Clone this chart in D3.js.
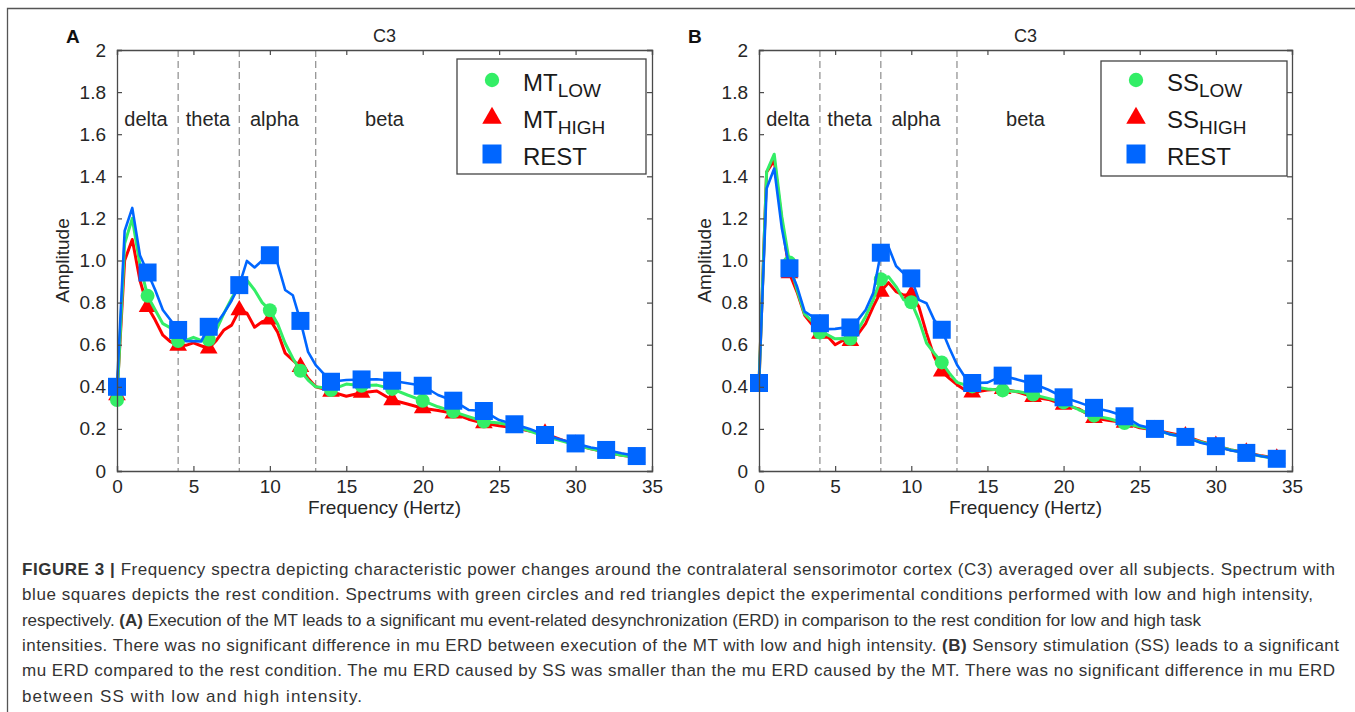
<!DOCTYPE html>
<html><head><meta charset="utf-8">
<script src="https://cdn.jsdelivr.net/npm/d3@7"></script>
<style>
html,body{margin:0;padding:0;background:#fff;overflow:hidden;}
svg{display:block;font-family:"Liberation Sans",Arial,Helvetica,sans-serif;}
</style></head>
<body>
<svg id="fig" width="1355" height="712"></svg>
<script>
// ---------- DATA ----------
const freqs = [0,0.5,1,1.5,2,2.5,3,3.5,4,4.5,5,5.5,6,6.5,7,7.5,8,8.5,9,9.5,10,10.5,11,11.5,12,12.5,13,13.5,14,
  15,16,17,18,19,20,21,22,23,24,25,26,27,28,29,30,31,32,33,34];

// Panel A (motor task)
const mtLow  = [0.337,1.08,1.2,0.98,0.832,0.765,0.70,0.68,0.617,0.62,0.635,0.62,0.625,0.67,0.75,0.82,0.88,0.906,0.86,0.80,0.764,0.70,0.607,0.536,0.476,0.432,0.40,0.395,0.385,
  0.413,0.405,0.408,0.39,0.361,0.334,0.305,0.282,0.258,0.235,0.228,0.215,0.19,0.165,0.145,0.125,0.105,0.09,0.075,0.065];
const mtHigh = [0.36,1.0,1.10,0.906,0.78,0.717,0.645,0.614,0.595,0.597,0.609,0.595,0.582,0.62,0.67,0.693,0.764,0.75,0.683,0.709,0.72,0.661,0.56,0.527,0.495,0.44,0.40,0.39,0.377,
  0.355,0.372,0.38,0.337,0.318,0.298,0.287,0.274,0.246,0.227,0.215,0.205,0.19,0.178,0.15,0.125,0.105,0.09,0.075,0.065];
const restA  = [0.40,1.14,1.25,1.025,0.943,0.86,0.765,0.717,0.67,0.617,0.617,0.615,0.685,0.70,0.75,0.81,0.883,0.998,0.967,1.0,1.025,0.987,0.86,0.835,0.713,0.566,0.503,0.464,0.424,
  0.432,0.435,0.436,0.429,0.417,0.405,0.361,0.334,0.29,0.285,0.242,0.222,0.20,0.171,0.15,0.131,0.112,0.10,0.084,0.071];

// Panel B (sensory stimulation)
const ssLow  = [0.415,1.421,1.505,1.208,0.99,0.86,0.745,0.71,0.658,0.647,0.628,0.63,0.628,0.671,0.734,0.813,0.911,0.923,0.876,0.813,0.802,0.718,0.608,0.56,0.516,0.465,0.421,0.41,0.402,
  0.39,0.383,0.378,0.363,0.345,0.326,0.291,0.263,0.248,0.228,0.21,0.195,0.175,0.16,0.138,0.118,0.1,0.085,0.07,0.058];
const ssHigh = [0.415,1.42,1.476,1.19,0.94,0.85,0.74,0.694,0.652,0.64,0.60,0.62,0.618,0.65,0.70,0.781,0.852,0.895,0.852,0.836,0.836,0.78,0.655,0.544,0.473,0.44,0.41,0.386,0.373,
  0.385,0.39,0.375,0.352,0.34,0.315,0.295,0.252,0.24,0.23,0.205,0.195,0.18,0.165,0.14,0.12,0.1,0.088,0.072,0.06];
const restB  = [0.418,1.342,1.437,1.153,0.963,0.876,0.757,0.734,0.702,0.674,0.675,0.68,0.682,0.718,0.765,0.845,1.037,1.065,0.974,0.939,0.915,0.813,0.797,0.718,0.671,0.584,0.505,0.449,0.418,
  0.42,0.453,0.434,0.415,0.386,0.35,0.326,0.30,0.284,0.26,0.216,0.20,0.173,0.162,0.134,0.118,0.097,0.086,0.07,0.058];

const bandEdges = [4, 8, 13];
const bandNames = ["delta","theta","alpha","beta"];
const bandCenters = [1.9, 5.95, 10.3, 17.5];

const xTicks = [0,5,10,15,20,25,30,35];
const yTicks = [0,0.2,0.4,0.6,0.8,1.0,1.2,1.4,1.6,1.8,2];
const yTickLabels = ["0","0.2","0.4","0.6","0.8","1.0","1.2","1.4","1.6","1.8","2"];

const panelLetters = ["A","B"];
const channelTitle = "C3";
const xTitle = "Frequency (Hertz)";
const yTitle = "Amplitude";
const legendA = [["MT","LOW"],["MT","HIGH"],["REST",""]];
const legendB = [["SS","LOW"],["SS","HIGH"],["REST",""]];

const captionLines = [
  [["FIGURE 3 | ",true],["Frequency spectra depicting characteristic power changes around the contralateral sensorimotor cortex (C3) averaged over all subjects. Spectrum with",false]],
  [["blue squares depicts the rest condition. Spectrums with green circles and red triangles depict the experimental conditions performed with low and high intensity,",false]],
  [["respectively. ",false],["(A)",true],[" Execution of the MT leads to a significant mu event-related desynchronization (ERD) in comparison to the rest condition for low and high task",false]],
  [["intensities. There was no significant difference in mu ERD between execution of the MT with low and high intensity. ",false],["(B)",true],[" Sensory stimulation (SS) leads to a significant",false]],
  [["mu ERD compared to the rest condition. The mu ERD caused by SS was smaller than the mu ERD caused by the MT. There was no significant difference in mu ERD",false]],
  [["between SS with low and high intensity.",false]]
];
const captionWidths = [1313, 1291, 1179, 1317, 1313, 340];

// ---------- STYLE ----------
const COLORS = {low:"#33ee66", high:"#ff0000", rest:"#0066ff"};
const AXIS_C = "#4a4a4a", TEXT_C = "#262626";

const svg = d3.select("#fig");

// figure frame
svg.append("path").attr("d","M7.5,720 L7.5,8.5 L1360,8.5")
  .attr("fill","none").attr("stroke","#555").attr("stroke-width",1.3);

const panels = [
  {left:117, right:652, top:50, bottom:471, letter:panelLetters[0], letterX:66,
   low:mtLow, high:mtHigh, rest:restA, legend:legendA, legBox:[457,59,646,174], legMarkX:492, legTextX:523},
  {left:759, right:1292, top:50, bottom:471, letter:panelLetters[1], letterX:688,
   low:ssLow, high:ssHigh, rest:restB, legend:legendB, legBox:[1101,61,1287,176], legMarkX:1136, legTextX:1167}
];

function marker(type, size){
  const sym = type==="low"?d3.symbolCircle:(type==="high"?d3.symbolTriangle:d3.symbolSquare);
  return d3.symbol().type(sym).size(size)();
}
const markerSize = {low:Math.PI*7*7, high:135, rest:18*18};
const legSize = {low:Math.PI*7.2*7.2, high:165, rest:19*19};

panels.forEach(p=>{
  const x = d3.scaleLinear().domain([0,35]).range([p.left,p.right]);
  const y = d3.scaleLinear().domain([0,2]).range([p.bottom,p.top]);
  const g = svg.append("g");

  // band separators
  g.selectAll(".band").data(bandEdges).enter().append("line")
    .attr("x1",d=>x(d)).attr("x2",d=>x(d)).attr("y1",y(2)).attr("y2",y(0))
    .attr("stroke","#8c8c8c").attr("stroke-width",1.2).attr("stroke-dasharray","7,4");

  // band names
  g.selectAll(".bn").data(bandNames).enter().append("text")
    .attr("x",(d,i)=>x(bandCenters[i])).attr("y",126)
    .attr("text-anchor","middle").attr("font-size",20).attr("fill",TEXT_C).text(d=>d);

  // series
  const line = d3.line().x((d,i)=>x(freqs[i])).y(d=>y(d));
  [["high",p.high,3],["low",p.low,3],["rest",p.rest,2.6]].forEach(([k,vals,w])=>{
    g.append("path").datum(vals).attr("d",line).attr("fill","none")
      .attr("stroke",COLORS[k]).attr("stroke-width",w).attr("stroke-linejoin","round");
    const pts = vals.map((v,i)=>({f:freqs[i],v})).filter(d=>d.f%2===0);
    g.selectAll(".m"+k).data(pts).enter().append("path")
      .attr("d",marker(k,markerSize[k]))
      .attr("transform",d=>`translate(${x(d.f)},${y(d.v)})`)
      .attr("fill",COLORS[k]);
  });

  // axes (inward ticks, mirrored)
  const fmtY = d=>yTickLabels[yTicks.indexOf(d)];
  const axB = g.append("g").attr("transform",`translate(0,${p.bottom})`)
    .call(d3.axisBottom(x).tickValues(xTicks).tickSize(-5).tickPadding(9));
  const axT = g.append("g").attr("transform",`translate(0,${p.top})`)
    .call(d3.axisTop(x).tickValues(xTicks).tickSize(-5).tickFormat(""));
  const axL = g.append("g").attr("transform",`translate(${p.left},0)`)
    .call(d3.axisLeft(y).tickValues(yTicks).tickSize(-5).tickPadding(11).tickFormat(fmtY));
  const axR = g.append("g").attr("transform",`translate(${p.right},0)`)
    .call(d3.axisRight(y).tickValues(yTicks).tickSize(-5).tickFormat(""));
  [axB,axT,axL,axR].forEach(a=>{
    a.select(".domain").attr("stroke",AXIS_C).attr("stroke-width",1.3);
    a.selectAll(".tick line").attr("stroke",AXIS_C).attr("stroke-width",1.2);
    a.selectAll(".tick text").attr("fill",TEXT_C).attr("font-size",19)
      .attr("font-family","'Liberation Sans',Arial,sans-serif");
  });

  // titles
  g.append("text").attr("x",(p.left+p.right)/2).attr("y",42).attr("text-anchor","middle")
    .attr("font-size",18).attr("fill",TEXT_C).text(channelTitle);
  g.append("text").attr("x",(p.left+p.right)/2).attr("y",514).attr("text-anchor","middle")
    .attr("font-size",19).attr("fill",TEXT_C).text(xTitle);
  g.append("text").attr("transform",`translate(${p.left-48},${(p.top+p.bottom)/2}) rotate(-90)`)
    .attr("text-anchor","middle").attr("font-size",19).attr("fill",TEXT_C).text(yTitle);
  g.append("text").attr("x",p.letterX).attr("y",43).attr("font-size",19).attr("font-weight","bold")
    .attr("fill","#111").text(p.letter);

  // legend
  const [bx0,by0,bx1,by1] = p.legBox;
  g.append("rect").attr("x",bx0).attr("y",by0).attr("width",bx1-bx0).attr("height",by1-by0)
    .attr("fill","#fff").attr("stroke","#444").attr("stroke-width",1.3);
  const rowsMark = [80,116,154], rowsText = [91,128,165];
  ["low","high","rest"].forEach((k,i)=>{
    g.append("path").attr("d",marker(k,legSize[k]))
      .attr("transform",`translate(${p.legMarkX},${rowsMark[i] + (k==="high"?2:0)})`).attr("fill",COLORS[k]);
    const t = g.append("text").attr("x",p.legTextX).attr("y",rowsText[i]).attr("font-size",24).attr("fill","#1a1a1a");
    t.append("tspan").text(p.legend[i][0]);
    if(p.legend[i][1]) t.append("tspan").attr("font-size",19).attr("dy",6).text(p.legend[i][1]);
  });
});

// caption: fixed font, per-line letter-spacing so each line spans the reference width
const capG = svg.append("g");
captionLines.forEach((segs,i)=>{
  const t = capG.append("text").attr("x",22).attr("y",575+i*25.3).attr("font-size",17).attr("fill","#333");
  segs.forEach(([s,b])=>{ t.append("tspan").attr("font-weight",b?"bold":"normal").text(s); });
  const node = t.node();
  const nat = node.getComputedTextLength();
  const n = node.textContent.length;
  if (nat > 0 && n > 1) {
    const ls = (captionWidths[i] - nat) / (n - 1);
    t.attr("letter-spacing", ls.toFixed(3));
  }
});
</script>
</body></html>
